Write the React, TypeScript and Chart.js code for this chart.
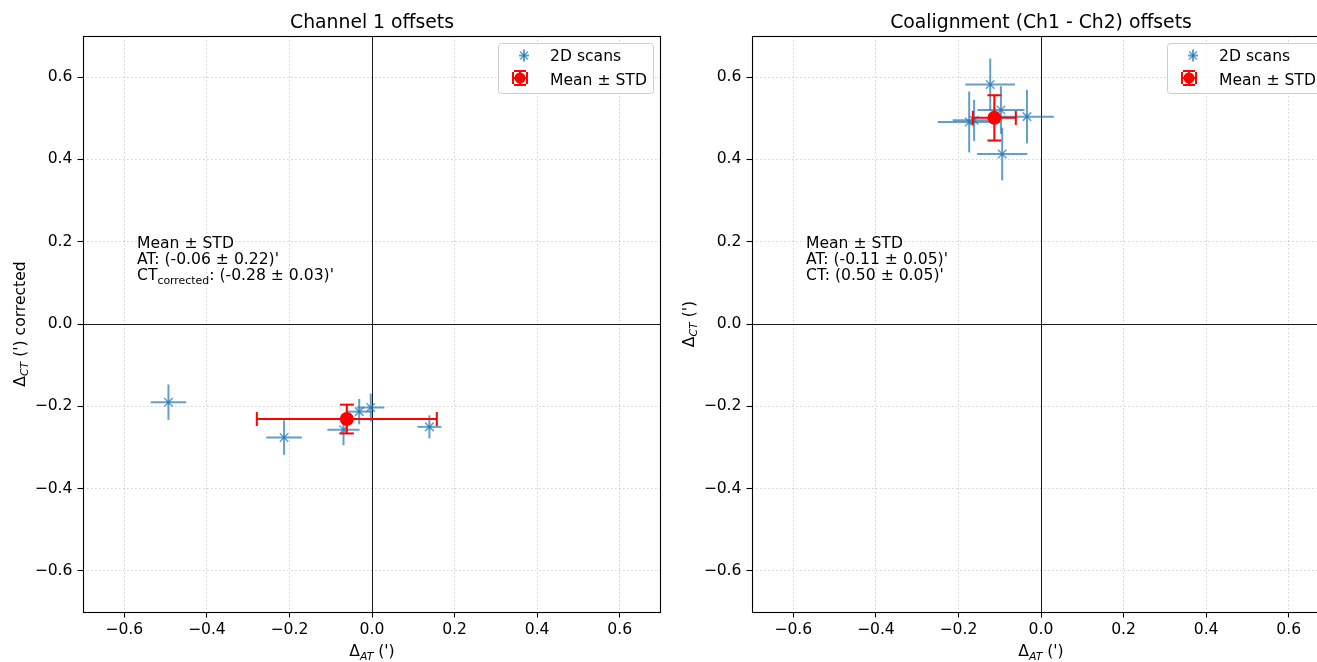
import React, { useEffect, useRef } from 'react';
import { Chart, registerables } from 'chart.js';

Chart.register(...registerables);

// ---------------- data ----------------
const tickValues = [-0.6, -0.4, -0.2, 0.0, 0.2, 0.4, 0.6];
const axisMin = -0.7;
const axisMax = 0.7;

const legendLabels = ['2D scans', 'Mean ± STD'];

// Channel 1 panel
const ch1Title = 'Channel 1 offsets';
const ch1ScanAT = [-0.493, -0.213, -0.069, -0.031, -0.003, 0.139];
const ch1ScanCT = [-0.19, -0.276, -0.257, -0.213, -0.203, -0.25];
const ch1ScanATErr = [0.043, 0.043, 0.039, 0.03, 0.033, 0.029];
const ch1ScanCTErr = [0.043, 0.042, 0.038, 0.031, 0.034, 0.028];
const ch1MeanAT = [-0.061];
const ch1MeanCT = [-0.231];
const ch1MeanATErr = [0.218];
const ch1MeanCTErr = [0.035];

// Coalignment panel
const coTitle = 'Coalignment (Ch1 - Ch2) offsets';
const coScanAT = [-0.123, -0.097, -0.174, -0.162, -0.034, -0.094];
const coScanCT = [0.582, 0.52, 0.491, 0.495, 0.504, 0.413];
const coScanATErr = [0.06, 0.057, 0.076, 0.052, 0.065, 0.061];
const coScanCTErr = [0.063, 0.058, 0.074, 0.05, 0.065, 0.064];
const coMeanAT = [-0.113];
const coMeanCT = [0.501];
const coMeanATErr = [0.052];
const coMeanCTErr = [0.055];

// ---------------- styling helpers ----------------
const FONT = '"DejaVu Sans", sans-serif';
const BASE = 15.6;
const TITLE_SIZE = 18.8;
const BLUE_A = 'rgba(31,119,180,0.7)';

type Seg = { t: string; sub?: boolean; italic?: boolean };

function drawRich(ctx: CanvasRenderingContext2D, segs: Seg[], x: number, y: number, align: 'left' | 'center') {
  const items = segs.map((s) => {
    const size = s.sub ? BASE * 0.7 : BASE;
    const font = `${s.italic ? 'italic ' : ''}${size}px ${FONT}`;
    ctx.font = font;
    return { ...s, font, w: ctx.measureText(s.t).width };
  });
  const total = items.reduce((a, s) => a + s.w, 0);
  let cx = align === 'center' ? x - total / 2 : x;
  ctx.textAlign = 'left';
  ctx.textBaseline = 'alphabetic';
  for (const s of items) {
    ctx.font = s.font;
    ctx.fillText(s.t, cx, y + (s.sub ? 3.5 : 0));
    cx += s.w;
  }
}

function drawErrorBars(chart: any, ds: any) {
  const xs = chart.scales.x;
  const ys = chart.scales.y;
  const ctx: CanvasRenderingContext2D = chart.ctx;
  const a = chart.chartArea;
  ctx.save();
  ctx.beginPath();
  ctx.rect(a.left, a.top, a.right - a.left, a.bottom - a.top);
  ctx.clip();
  ctx.strokeStyle = ds.errColor;
  ctx.lineWidth = ds.errWidth;
  const seg = (x0: number, y0: number, x1: number, y1: number) => {
    ctx.beginPath();
    ctx.moveTo(x0, y0);
    ctx.lineTo(x1, y1);
    ctx.stroke();
  };
  ds.data.forEach((p: any, i: number) => {
    const px = xs.getPixelForValue(p.x);
    const py = ys.getPixelForValue(p.y);
    const x0 = xs.getPixelForValue(p.x - ds.errX[i]);
    const x1 = xs.getPixelForValue(p.x + ds.errX[i]);
    const y0 = ys.getPixelForValue(p.y - ds.errY[i]);
    const y1 = ys.getPixelForValue(p.y + ds.errY[i]);
    seg(x0, py, x1, py);
    seg(px, y0, px, y1);
    if (ds.cap > 0) {
      const c = ds.cap;
      seg(x0, py - c, x0, py + c);
      seg(x1, py - c, x1, py + c);
      seg(px - c, y0, px + c, y0);
      seg(px - c, y1, px + c, y1);
    }
  });
  ctx.restore();
}

function roundRect(ctx: CanvasRenderingContext2D, x: number, y: number, w: number, h: number, r: number) {
  ctx.beginPath();
  ctx.moveTo(x + r, y);
  ctx.lineTo(x + w - r, y);
  ctx.arcTo(x + w, y, x + w, y + r, r);
  ctx.lineTo(x + w, y + h - r);
  ctx.arcTo(x + w, y + h, x + w - r, y + h, r);
  ctx.lineTo(x + r, y + h);
  ctx.arcTo(x, y + h, x, y + h - r, r);
  ctx.lineTo(x, y + r);
  ctx.arcTo(x, y, x + r, y, r);
  ctx.closePath();
}

type PanelCfg = {
  title: string;
  scanAT: number[];
  scanCT: number[];
  scanATErr: number[];
  scanCTErr: number[];
  meanAT: number[];
  meanCT: number[];
  meanATErr: number[];
  meanCTErr: number[];
  note: Seg[][];
  yLabel: Seg[];
};

const xLabel: Seg[] = [{ t: 'Δ' }, { t: 'AT', sub: true, italic: true }, { t: " (')" }];

const panels: PanelCfg[] = [
  {
    title: ch1Title,
    scanAT: ch1ScanAT,
    scanCT: ch1ScanCT,
    scanATErr: ch1ScanATErr,
    scanCTErr: ch1ScanCTErr,
    meanAT: ch1MeanAT,
    meanCT: ch1MeanCT,
    meanATErr: ch1MeanATErr,
    meanCTErr: ch1MeanCTErr,
    note: [
      [{ t: 'Mean ± STD' }],
      [{ t: "AT: (-0.06 ± 0.22)'" }],
      [{ t: 'CT' }, { t: 'corrected', sub: true }, { t: ": (-0.28 ± 0.03)'" }],
    ],
    yLabel: [{ t: 'Δ' }, { t: 'CT', sub: true, italic: true }, { t: " (') corrected" }],
  },
  {
    title: coTitle,
    scanAT: coScanAT,
    scanCT: coScanCT,
    scanATErr: coScanATErr,
    scanCTErr: coScanCTErr,
    meanAT: coMeanAT,
    meanCT: coMeanCT,
    meanATErr: coMeanATErr,
    meanCTErr: coMeanCTErr,
    note: [[{ t: 'Mean ± STD' }], [{ t: "AT: (-0.11 ± 0.05)'" }], [{ t: "CT: (0.50 ± 0.05)'" }]],
    yLabel: [{ t: 'Δ' }, { t: 'CT', sub: true, italic: true }, { t: " (')" }],
  },
];

const fmtTick = (v: any) => {
  const n = Number(v);
  const s = Math.abs(n) < 1e-9 ? '0.0' : n.toFixed(1);
  return s.replace('-', '\u2212');
};

function scaleOpts(axis: 'x' | 'y') {
  return {
    type: 'linear',
    position: axis === 'x' ? 'bottom' : 'left',
    min: axisMin,
    max: axisMax,
    bounds: 'data',
    afterBuildTicks: (s: any) => {
      s.ticks = tickValues.map((v) => ({ value: v }));
    },
    afterFit: (s: any) => {
      if (axis === 'x') s.height = 50;
      else s.width = 83;
    },
    grid: {
      color: 'rgba(170,170,170,0.55)',
      lineWidth: 1,
      drawTicks: true,
      tickLength: 5.5,
      tickColor: '#000',
      tickWidth: 1.1,
    },
    border: { display: false, dash: [1.5, 2.5] },
    ticks: {
      font: { family: 'DejaVu Sans', size: BASE },
      color: '#000',
      padding: axis === 'x' ? 3 : 5,
      maxRotation: 0,
      autoSkip: false,
      callback: (v: any) => fmtTick(v),
    },
  };
}

const decorPlugin = {
  id: 'decor',
  beforeDatasetsDraw(chart: any) {
    const ctx: CanvasRenderingContext2D = chart.ctx;
    const a = chart.chartArea;
    const x0 = Math.round(chart.scales.x.getPixelForValue(0)) + 0.5;
    const y0 = Math.round(chart.scales.y.getPixelForValue(0)) + 0.5;
    ctx.save();
    ctx.strokeStyle = '#000';
    ctx.lineWidth = 0.9;
    ctx.beginPath();
    ctx.moveTo(a.left, y0);
    ctx.lineTo(a.right, y0);
    ctx.moveTo(x0, a.top);
    ctx.lineTo(x0, a.bottom);
    ctx.stroke();
    ctx.restore();
  },
  beforeDatasetDraw(chart: any, args: any) {
    const ds = chart.data.datasets[args.index];
    drawErrorBars(chart, ds);
  },
  afterDraw(chart: any) {
    const cfg: PanelCfg = chart.options.plugins.decor.cfg;
    const ctx: CanvasRenderingContext2D = chart.ctx;
    const a = chart.chartArea;
    ctx.save();
    // frame
    ctx.strokeStyle = '#000';
    ctx.lineWidth = 1.1;
    ctx.strokeRect(a.left + 0.5, a.top + 0.5, a.right - a.left - 1, a.bottom - a.top);
    ctx.fillStyle = '#000';
    // title
    ctx.font = `${TITLE_SIZE}px ${FONT}`;
    ctx.textAlign = 'center';
    ctx.textBaseline = 'alphabetic';
    ctx.fillText(cfg.title, (a.left + a.right) / 2, 28);
    // note
    cfg.note.forEach((line, i) => {
      drawRich(ctx, line, a.left + 54, 247.5 + i * 16.4, 'left');
    });
    // x label
    drawRich(ctx, xLabel, (a.left + a.right) / 2, 656, 'center');
    // y label
    ctx.save();
    ctx.translate(a.left - 64, (a.top + a.bottom) / 2);
    ctx.rotate(-Math.PI / 2);
    drawRich(ctx, cfg.yLabel, 0, 5.5, 'center');
    ctx.restore();
    // legend
    const bw = 155;
    const bh = 50;
    const bx = a.right - 8 - bw;
    const by = a.top + 7;
    ctx.fillStyle = 'rgba(255,255,255,0.8)';
    roundRect(ctx, bx + 0.5, by + 0.5, bw, bh, 3);
    ctx.fill();
    ctx.strokeStyle = '#cccccc';
    ctx.lineWidth = 1;
    ctx.stroke();
    // blue handle
    const bcx = bx + 26;
    const bcy = by + 12.5;
    ctx.strokeStyle = BLUE_A;
    ctx.lineWidth = 2;
    ctx.beginPath();
    ctx.moveTo(bcx - 5, bcy);
    ctx.lineTo(bcx + 5, bcy);
    ctx.stroke();
    ctx.beginPath();
    ctx.moveTo(bcx, bcy - 6);
    ctx.lineTo(bcx, bcy + 6);
    ctx.stroke();
    ctx.lineWidth = 1.5;
    ctx.beginPath();
    ctx.moveTo(bcx - 4, bcy - 4);
    ctx.lineTo(bcx + 4, bcy + 4);
    ctx.moveTo(bcx - 4, bcy + 4);
    ctx.lineTo(bcx + 4, bcy - 4);
    ctx.stroke();
    // red handle
    const rcx = bx + 22;
    const rcy = by + 35;
    ctx.strokeStyle = 'red';
    ctx.lineWidth = 2;
    ctx.beginPath();
    ctx.moveTo(rcx - 7, rcy);
    ctx.lineTo(rcx + 7, rcy);
    ctx.moveTo(rcx, rcy - 7);
    ctx.lineTo(rcx, rcy + 7);
    ctx.moveTo(rcx - 7, rcy - 6);
    ctx.lineTo(rcx - 7, rcy + 6);
    ctx.moveTo(rcx + 7, rcy - 6);
    ctx.lineTo(rcx + 7, rcy + 6);
    ctx.moveTo(rcx - 6, rcy - 7);
    ctx.lineTo(rcx + 6, rcy - 7);
    ctx.moveTo(rcx - 6, rcy + 7);
    ctx.lineTo(rcx + 6, rcy + 7);
    ctx.stroke();
    ctx.fillStyle = 'red';
    ctx.beginPath();
    ctx.arc(rcx, rcy, 5.5, 0, Math.PI * 2);
    ctx.fill();
    // legend text
    ctx.fillStyle = '#000';
    ctx.font = `${BASE}px ${FONT}`;
    ctx.textAlign = 'left';
    ctx.textBaseline = 'alphabetic';
    ctx.fillText(legendLabels[0], bx + 52, by + 18.3);
    ctx.fillText(legendLabels[1], bx + 52, by + 41.8);
    ctx.restore();
  },
};

function buildConfig(cfg: PanelCfg, padRight: number): any {
  return {
    type: 'scatter',
    data: {
      datasets: [
        {
          label: legendLabels[0],
          data: cfg.scanAT.map((x, i) => ({ x, y: cfg.scanCT[i] })),
          errX: cfg.scanATErr,
          errY: cfg.scanCTErr,
          errColor: BLUE_A,
          errWidth: 2,
          cap: 0,
          pointStyle: 'crossRot',
          pointRadius: 6,
          pointHoverRadius: 6,
          borderColor: BLUE_A,
          backgroundColor: BLUE_A,
          borderWidth: 1.5,
          order: 1,
        },
        {
          label: legendLabels[1],
          data: cfg.meanAT.map((x, i) => ({ x, y: cfg.meanCT[i] })),
          errX: cfg.meanATErr,
          errY: cfg.meanCTErr,
          errColor: 'red',
          errWidth: 2,
          cap: 7,
          pointStyle: 'circle',
          pointRadius: 7,
          pointHoverRadius: 7,
          borderColor: 'red',
          backgroundColor: 'red',
          borderWidth: 0,
          order: 0,
        },
      ],
    },
    options: {
      responsive: false,
      animation: false,
      devicePixelRatio: 1,
      events: [],
      layout: { padding: { left: 0, right: padRight, top: 36, bottom: 0 } },
      scales: { x: scaleOpts('x'), y: scaleOpts('y') },
      plugins: {
        legend: { display: false },
        tooltip: { enabled: false },
        title: { display: false },
        decor: { cfg },
      },
    },
    plugins: [decorPlugin],
  };
}

function Panel({ cfg, left, width, padRight }: { cfg: PanelCfg; left: number; width: number; padRight: number }) {
  const ref = useRef<HTMLCanvasElement>(null);
  useEffect(() => {
    const chart = new Chart(ref.current as HTMLCanvasElement, buildConfig(cfg, padRight));
    return () => chart.destroy();
  }, [cfg, padRight]);
  return (
    <canvas
      ref={ref}
      width={width}
      height={662}
      style={{ position: 'absolute', left, top: 0, width, height: 662, display: 'block' }}
    />
  );
}

export default function App() {
  return (
    <div
      style={{
        position: 'absolute',
        left: 0,
        top: 0,
        width: 1317,
        height: 662,
        overflow: 'hidden',
        background: '#fff',
      }}
    >
      <Panel cfg={panels[0]} left={0} width={669} padRight={8} />
      <Panel cfg={panels[1]} left={669} width={680} padRight={19} />
    </div>
  );
}
